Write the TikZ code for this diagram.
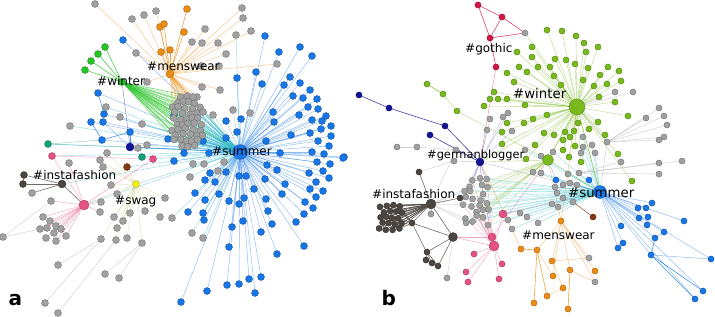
\documentclass[tikz,border=0pt]{standalone}
\usepackage{fontspec}
\setmainfont{DejaVu Sans}
\pgfdeclarelayer{edges}
\pgfsetlayers{edges,main}
\definecolor{cblue}{RGB}{24,118,230}
\definecolor{ccyan}{RGB}{40,185,200}
\definecolor{cgreenA}{RGB}{40,195,40}
\definecolor{cgreenB}{RGB}{120,185,30}
\definecolor{corange}{RGB}{235,140,20}
\definecolor{cgray}{RGB}{160,160,160}
\definecolor{cdark}{RGB}{75,70,65}
\definecolor{cpink}{RGB}{230,80,130}
\definecolor{cnavy}{RGB}{20,20,150}
\definecolor{cteal}{RGB}{20,160,120}
\definecolor{cyellow}{RGB}{240,240,20}
\definecolor{cbrown}{RGB}{130,60,20}
\definecolor{ccrimson}{RGB}{210,20,70}
\definecolor{colive}{RGB}{200,200,120}
\definecolor{cpurple}{RGB}{140,130,200}
\newcommand\mknodes[3]{\foreach \x/\y [count=\i] in #3 {\node[#2] (#1\i) at (\x,\y) {};}}
\newcommand\mkedges[4]{\foreach \x/\y [count=\i] in #4 {\draw[#3] (#2) -- (#1\i);}}
% skip tests for the clusters
\newcommand\skipA{\pgfmathtruncatemacro\sk{((\r<1)&&((\c==0)||(\c==4)))||((\r>8)&&((\c==0)||(\c==4)))||((\r==1)&&(\c==4)) ? 1 : 0}}
\newcommand\skipB{\pgfmathtruncatemacro\sk{mod(\r*7+\c*3,5)==0 ? 1 : 0}}
% ---- lists ----
\def\LsumA{265/36,300/47,312/56,279/52,256/72,237/78,262/84,290/77,300/83,284/85,310/90,293/96,303/98,317/99,308/107,318/109,273/112,299/115,326/116,241/119,226/121,312/120,322/121,331/126,274/122,291/135,310/133,321/129,331/136,226/138,237/132,203/141,266/141,318/141,329/146,324/154,312/152,344/157,280/153,174/115,184/153,209/153,174/161,210/173,205/180,215/182,195/193,219/194,205/200,229/201,239/204,188/212,203/213,204/220,232/227,243/221,244/198,254/189,265/179,266/199,268/211,272/224,261/232,282/194,285/184,277/170,267/165,305/202,296/222,304/214,313/208,316/197,323/191,310/189,316/182,329/178,309/173,323/171,317/162,330/164,343/158,304/246,277/254,229/247,261/277,249/279,239/284,227/285,255/293,207/291,181/302,239/176,246/176,226/172}
\def\LubA{123/40,98/93,104/114,91/122,103/122,102/140,130/132,168/139}
\def\LwaA{105/47,98/54,91/61,85/70}
\def\LoaA{187/9,184/32,160/27,164/24,161/52,170/50}
\def\LtaA{95/4,132/19,144/15,156/11,136/53,147/82,242/8,243/18,251/31,205/29,192/42,202/43,218/43,226/54,201/66,219/66,202/87,220/90,197/97,277/64}
\def\LmaA{236/35,233/110,250/113,213/115,193/164,204/164,190/177,218/171,224/162,172/218,192/233,203/238,106/107,120/117,142/124,147/145,138/148,70/126}
\def\LswA{145/211,160/217,165/198,142/243,127/238,116/240,101/239,114/217,123/221,117/228,130/213,100/160,107/153,103/167,117/194,111/185}
\def\LpkA{43/217,50/221,56/226,40/229,47/228,54/233,61/229,66/236,46/238,56/241,51/201,100/212,101/202,69/163}
\def\LiaA{24/175,23/184}
\def\LfaA{3/237,58/265,105/274,119/278,45/303,58/313}
\def\LwbB{517/52,494/92,490/99,498/99,507/99,484/106,507/73,514/82,519/67,527/72,525/105,507/123,502/132,502/144,547/30,562/31,576/36,584/43,586/52,598/47,532/47,532/57,555/59,566/60,538/67,550/67,575/64,588/68,608/67,619/71,554/76,600/75,583/80,621/81,607/84,594/86,561/85,599/97,615/102,628/116,547/115,533/119,524/123,578/123,598/122,544/133,554/135,565/132,574/131,570/137,589/129,605/135,563/140,535/145,575/146,563/150,618/154,526/159,569/157,581/162,632/181}
\def\LggB{490/119,503/117,508/113,487/130,512/131,456/150,454/161}
\def\LsgB{583/137,592/145,583/147,581/153,595/153,553/152,541/156,525/150,533/172,541/173,568/174,579/173,555/187,563/185,570/183,577/185,557/193,563/198,573/202,552/204,558/207,538/223,527/217,520/213,508/220,512/229}
\def\LrgB{659/108,664/116,646/118,667/125,664/137,659/140}
\def\LrwB{615/92,633/92}
\def\LrsB{621/162,659/163,682/161,659/174}
\def\LbbB{652/203,638/208,646/208,639/218,648/217,684/221,621/226,647/225,664/232,655/238,623/243,618/248,651/255,711/259,703/291,695/299,556/180,589/180}
\def\LobB{537/250,552/261,570/270,595/271,553/276}
\def\LocB{521/249,563/288,547/296,534/303,568/309}
\def\LpbB{474/254,466/272,468/282,502/264,499/279}
\begin{document}
\begin{tikzpicture}[x=1pt,y=-1pt,
  nd/.style={circle,inner sep=0pt,minimum size=7pt,line width=0.35pt,draw=#1!70!black,fill=#1},
  ndb/.style={nd=#1,minimum size=6.2pt},
  ed/.style={draw=#1,line width=0.45pt,opacity=0.5},
  edk/.style={draw=#1,line width=0.6pt,opacity=0.8},
  lab/.style={anchor=base west,inner sep=0pt,font=\fontsize{12}{12}\selectfont},
  labb/.style={lab,font=\fontsize{13.3}{13}\selectfont},
  plab/.style={anchor=base west,inner sep=0pt,font=\fontsize{20}{20}\selectfont\bfseries}]
\useasboundingbox (0,0) rectangle (715,316);

% ================= nodes, panel a =================
\mknodes{sa}{nd=cblue}{\LsumA}
\mknodes{ub}{nd=cblue}{\LubA}
\mknodes{wa}{nd=cgreenA}{\LwaA}
\mknodes{oa}{nd=corange}{\LoaA}
\mknodes{ta}{nd=cgray}{\LtaA}
\mknodes{ma}{nd=cgray}{\LmaA}
\mknodes{sw}{nd=cgray}{\LswA}
\mknodes{pk}{nd=cgray}{\LpkA}
\mknodes{ia}{nd=cdark}{\LiaA}
\mknodes{fa}{nd=cgray}{\LfaA}
\node[nd=cgray] (ib1) at (32,193) {};
\foreach \r in {0,...,9}{\foreach \c in {0,...,4}{
  \skipA
  \ifnum\sk=0
  \pgfmathsetmacro\px{173+\c*6.5+mod(\r,2)*3.2+1.5*sin(\r*97+\c*53)}
  \pgfmathsetmacro\py{97+\r*5.4+1.2*cos(\r*61+\c*89)}
  \node[nd=cgray] (ca\r-\c) at (\px,\py) {};
  \fi
}}
\node[nd=cblue,minimum size=15pt] (sumA) at (240,152) {};
\node[nd=cgreenA] (winA) at (122,82) {};
\node[nd=corange,minimum size=8pt] (menA) at (170,74) {};
\node[nd=cdark,minimum size=8pt] (instA) at (62,184) {};
\node[nd=cyellow] (swagA) at (136,184) {};
\node[nd=cpink,minimum size=10pt] (pinkA) at (84,205) {};
\node[nd=cnavy,minimum size=8pt] (navyA) at (130,147) {};
\node[nd=cteal] (tealA) at (142,157) {};
\node[nd=cteal] (teal2A) at (48,144) {};
\node[nd=cpink] (pink2A) at (153,159) {};
\node[nd=cpink] (pink3A) at (52,156) {};
\node[nd=cbrown] (brownA) at (127,167) {};

% ================= nodes, panel b =================
\mknodes{wb}{ndb=cgreenB}{\LwbB}
\mknodes{gg}{ndb=cgray}{\LggB}
\mknodes{sg}{ndb=cgray}{\LsgB}
\mknodes{rg}{ndb=cgray}{\LrgB}
\mknodes{rw}{ndb=cgray}{\LrwB}
\mknodes{rs}{ndb=cgray}{\LrsB}
\mknodes{bb}{ndb=cblue}{\LbbB}
\mknodes{ob}{ndb=corange}{\LobB}
\mknodes{oc}{ndb=corange}{\LocB}
\mknodes{pb}{ndb=cpink}{\LpbB}
\foreach \r in {0,...,4}{\foreach \c in {0,...,3}{
  \pgfmathsetmacro\px{380+\c*6.3+mod(\r,2)*3.1+0.9*sin(\r*71+\c*37)}
  \pgfmathsetmacro\py{206+\r*5.8+0.9*cos(\r*53+\c*97)}
  \node[ndb=cdark] (db\r-\c) at (\px,\py) {};
}}
\foreach \r in {0,...,7}{\foreach \c in {0,...,3}{
  \skipB
  \ifnum\sk=0
  \pgfmathsetmacro\px{464+\c*7+mod(\r,2)*3.5+2*sin(\r*83+\c*41)}
  \pgfmathsetmacro\py{180+\r*6.2+1.8*cos(\r*67+\c*79)}
  \node[ndb=cgray] (cb\r-\c) at (\px,\py) {};
  \fi
}}
\node[ndb=cgreenB,minimum size=16pt] (winB) at (577,107) {};
\node[ndb=cgreenB,minimum size=11pt] (bgB) at (548,160) {};
\node[ndb=cblue,minimum size=13pt] (sumB) at (600,192) {};
\node[ndb=cnavy,minimum size=8pt] (gerB) at (480,162) {};
\node[ndb=cdark,minimum size=10pt] (instB) at (431,204) {};
\node[ndb=cpink,minimum size=10pt] (pinkB) at (494,246) {};
\node[ndb=cpink,minimum size=8pt] (pink2B) at (492,237) {};
\node[ndb=cpink,minimum size=8pt] (pink3B) at (503,214) {};
\node[ndb=corange] (menB) at (561,221) {};
\node[ndb=cbrown] (brownB) at (593,217) {};
\node[ndb=ccrimson] (cr1) at (478,5) {};
\node[ndb=ccrimson] (cr2) at (502,17) {};
\node[ndb=ccrimson] (cr3) at (490,38) {};
\node[ndb=ccrimson] (cr4) at (496,67) {};
\node[ndb=cgray] (gq) at (525,33) {};
\node[ndb=cnavy] (nv1) at (359,95) {};
\node[ndb=cnavy] (nv2) at (389,108) {};
\node[ndb=cnavy] (nv3) at (445,126) {};
\node[ndb=cnavy] (nv4) at (430,135) {};
\node[ndb=cgreenB] (gc1) at (427,84) {};
\node[ndb=cgreenB] (gc2) at (443,94) {};
\node[ndb=cgreenB] (gc3) at (457,111) {};
\node[ndb=cgray] (gl1) at (397,147) {};
\node[ndb=cgray] (gl2) at (417,147) {};
\node[ndb=cdark] (dk8) at (419,172) {};
\node[ndb=cgray] (ra) at (607,142) {};
\node[ndb=cgray] (og1) at (589,258) {};
\node[ndb=cgray] (og2) at (595,282) {};
\node[ndb=cdark] (dk1) at (412,223) {};
\node[ndb=cdark,minimum size=9pt] (dk2) at (453,237) {};
\node[ndb=cdark] (dk3) at (427,252) {};
\node[ndb=cdark] (dk4) at (432,263) {};
\node[ndb=cdark] (dk5) at (438,266) {};
\node[ndb=cdark] (dk6) at (426,260) {};
\node[ndb=cdark] (dk7) at (460,198) {};
\node[ndb=cgray] (dg1) at (431,214) {};
\node[ndb=cgray] (dg2) at (447,278) {};

% ================= all edges, one layer =================
\begin{pgfonlayer}{edges}
% --- panel a
\mkedges{sa}{sumA}{ed=cblue}{\LsumA}
\mkedges{ub}{sumA}{ed=cblue}{\LubA}
\mkedges{wa}{winA}{edk=cgreenA}{\LwaA}
\mkedges{oa}{menA}{edk=corange}{\LoaA}
\mkedges{ta}{menA}{ed=corange}{\LtaA}
\mkedges{ma}{sumA}{ed=ccyan}{\LmaA}
\mkedges{sw}{swagA}{ed=colive}{\LswA}
\mkedges{pk}{pinkA}{ed=cpink}{\LpkA}
\mkedges{ia}{instA}{edk=cdark}{\LiaA}
\draw[edk=cdark] (instA) -- (ib1);
\draw[edk=cdark] (ia1) -- (ia2);
\foreach \n in {tealA,pink2A,brownA,swagA,pinkA,instA,teal2A,pink3A}
  \draw[ed=ccyan] (sumA) -- (\n);
\draw[edk=cblue] (sumA) -- (navyA);
\draw[edk=cgreenA] (winA) -- (sumA);
\draw[ed=corange] (menA) -- (sumA);
\draw[ed=cteal] (teal2A) -- (navyA);
\draw[ed=cpink] (pink3A) -- (pinkA);
\draw[ed=cpink] (pink3A) -- (pink2A);
\draw[ed=cpink] (pink2A) -- (pinkA);
\draw[ed=colive] (brownA) -- (swagA);
\draw[edk=cdark] (instA) -- (pinkA);
\draw[ed=colive] (swagA) -- (pinkA);
\draw[ed=cnavy] (navyA) -- (winA);
\draw[edk=cblue] (ub2) -- (ub3);
\draw[edk=cblue] (ub4) -- (ub6);
\draw[edk=cblue] (ub6) -- (ub7);
\draw[edk=cblue] (ub7) -- (navyA);
\draw[ed=cblue] (ub5) -- (navyA);
\draw[ed=cteal] (teal2A) -- (ub6);
\draw[ed=cgray] (fa1) -- (pk11);
\draw[ed=cgray] (fa1) -- (pk4);
\draw[ed=cgray] (fa2) -- (sw7);
\draw[ed=cgray] (fa3) -- (sw4);
\draw[ed=cgray] (fa4) -- (sw4);
\draw[ed=cgray] (fa5) -- (sw7);
\draw[ed=cgray] (fa6) -- (sw6);
\foreach \r in {0,...,9}{\foreach \c in {0,...,4}{
  \skipA
  \ifnum\sk=0
  \draw[ed=cgreenA] (winA) -- (ca\r-\c);
  \draw[ed=ccyan] (sumA) -- (ca\r-\c);
  \ifnum\r<4 \draw[ed=corange] (menA) -- (ca\r-\c);\fi
  \fi
}}
% --- panel b
\mkedges{wb}{winB}{ed=cgreenB}{\LwbB}
\mkedges{gg}{gerB}{ed=cpurple}{\LggB}
\mkedges{sg}{sumB}{ed=ccyan}{\LsgB}
\mkedges{rg}{ra}{ed=cgray}{\LrgB}
\mkedges{rw}{winB}{ed=cgray}{\LrwB}
\mkedges{rs}{sg12}{ed=cgray}{\LrsB}
\mkedges{bb}{sumB}{ed=cblue}{\LbbB}
\mkedges{ob}{menB}{ed=corange}{\LobB}
\mkedges{pb}{pinkB}{ed=cpink}{\LpbB}
\draw[edk=cgreenB] (winB) -- (bgB);
\draw[ed=cgreenB] (bgB) -- (sumB);
\draw[edk=cgreenB] (winB) -- (sumB);
\draw[ed=cgreenB] (gerB) -- (winB);
\draw[ed=cpurple] (gerB) -- (sumB);
\draw[ed=cgreenB] (gerB) -- (bgB);
\draw[ed=corange] (menB) -- (winB);
\draw[ed=corange] (menB) -- (bgB);
\draw[ed=cpink] (pinkB) -- (pink2B);
\draw[ed=cpink] (pinkB) -- (pink3B);
\draw[ed=cpink] (pink3B) -- (sumB);
\draw[ed=cpink] (pink2B) -- (bgB);
\draw[edk=ccrimson] (cr1) -- (cr2);
\draw[edk=ccrimson] (cr1) -- (cr3);
\draw[edk=ccrimson] (cr2) -- (cr3);
\draw[edk=ccrimson] (cr2) -- (gq);
\draw[edk=ccrimson] (cr3) -- (gq);
\draw[edk=ccrimson] (cr3) -- (cr4);
\draw[ed=ccrimson] (cr4) -- (gerB);
\draw[ed=cgreenB] (gq) -- (winB);
\draw[edk=cnavy] (nv1) -- (nv2);
\draw[edk=cnavy] (nv2) -- (nv3);
\draw[edk=cnavy] (nv3) -- (gerB);
\draw[edk=cnavy] (nv4) -- (gerB);
\draw[edk=cgreenB] (gc1) -- (gc2);
\draw[ed=cgreenB] (gc2) -- (gc3);
\draw[ed=cgreenB] (gc3) -- (bgB);
\draw[ed=cgray] (gl1) -- (gl2);
\draw[ed=cgray] (gl2) -- (gg6);
\draw[ed=cgray] (dk8) -- (gg7);
\draw[edk=cdark] (dk8) -- (instB);
\draw[edk=cbrown] (brownB) -- (sg19);
\draw[ed=cgray] (ra) -- (winB);
\draw[ed=cgray] (ra) -- (sumB);
\draw[edk=cblue] (bb13) -- (bb15);
\draw[edk=cblue] (bb13) -- (bb16);
\draw[ed=cblue] (bb13) -- (bb14);
\draw[edk=cblue] (bb10) -- (bb13);
\draw[ed=cblue] (bb9) -- (bb10);
\draw[ed=cblue] (bb17) -- (bgB);
\draw[edk=corange] (ob1) -- (oc1);
\draw[edk=corange] (ob1) -- (oc3);
\draw[edk=corange] (ob1) -- (oc4);
\draw[ed=corange] (ob1) -- (ob5);
\draw[ed=corange] (ob2) -- (oc2);
\draw[edk=corange] (ob3) -- (oc5);
\draw[ed=corange] (oc2) -- (oc3);
\draw[ed=corange] (menB) -- (og1);
\draw[ed=corange] (menB) -- (og2);
\draw[ed=corange] (ob3) -- (og2);
\draw[ed=corange] (oc1) -- (gerB);
\draw[ed=corange] (ob2) -- (og1);
\draw[edk=cdark] (instB) -- (dk1);
\draw[edk=cdark] (instB) -- (dk2);
\draw[edk=cdark] (instB) -- (dk7);
\draw[edk=cdark] (dk1) -- (dk2);
\draw[edk=cdark] (dk1) -- (dk4);
\draw[edk=cdark] (dk2) -- (dk3);
\draw[edk=cdark] (dk2) -- (dk5);
\draw[edk=cdark] (dk3) -- (dk6);
\draw[edk=cdark] (dk6) -- (dk4);
\draw[edk=cdark] (dk4) -- (dk5);
\draw[edk=cdark] (dk3) -- (dk5);
\draw[ed=cpink] (pinkB) -- (dk2);
\draw[ed=cpink] (pink2B) -- (dk2);
\draw[ed=cgray] (dg2) -- (dk2);
\draw[ed=cgray] (dg1) -- (instB);
\draw[ed=cgray] (instB) -- (gg6);
\foreach \r in {0,...,4}{\foreach \c in {0,...,3}{
  \draw[edk=cdark] (instB) -- (db\r-\c);
  \ifnum\c=3 \draw[edk=cdark] (dk1) -- (db\r-\c);\fi
}}
\foreach \r in {0,...,7}{\foreach \c in {0,...,3}{
  \skipB
  \ifnum\sk=0
  \draw[ed=ccyan,opacity=0.3] (sumB) -- (cb\r-\c);
  \ifodd\r \draw[ed=cgreenB,opacity=0.35] (bgB) -- (cb\r-\c);
  \else \draw[ed=cpink,opacity=0.4] (pinkB) -- (cb\r-\c);\fi
  \ifnum\c=0 \draw[ed=cgray] (instB) -- (cb\r-\c);\fi
  \ifnum\r<3 \draw[ed=cpurple] (gerB) -- (cb\r-\c);\fi
  \fi
}}
\end{pgfonlayer}

% ================= labels =================
\node[lab] (lmenA) at (147,70) {\#menswear};
\node[lab] (lwinA) at (97,85) {\#winter};
\node[lab] (lsumA) at (212,155) {\#summer};
\node[lab] (linsA) at (33,179) {\#instafashion};
\node[lab] (lswaA) at (115,204) {\#swag};
\node[lab] (lgotB) at (465,52) {\#gothic};
\node[labb] (lwinB) at (513,98) {\#winter};
\node[lab,font=\fontsize{11.4}{12}\selectfont] (lgerB) at (427,158) {\#germanblogger};
\node[lab] (linsB) at (372,198) {\#instafashion};
\node[labb] (lsumB) at (568,197) {\#summer};
\node[lab] (lmenB) at (522,239) {\#menswear};
\node[plab] (pa) at (8.5,305) {a};
\node[plab] (pb) at (381.5,305) {b};
\end{tikzpicture}
\end{document}
